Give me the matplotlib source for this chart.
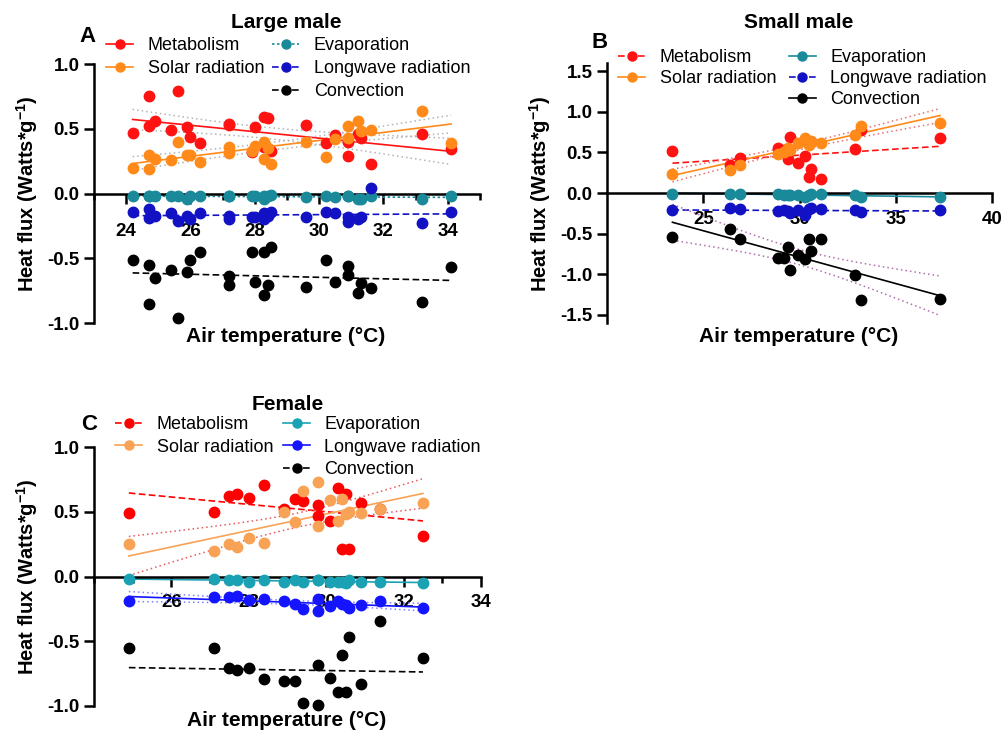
import numpy as np
import matplotlib.pyplot as plt
from matplotlib.lines import Line2D
from matplotlib.ticker import MultipleLocator

plt.rcParams['font.family'] = ['Liberation Sans', 'DejaVu Sans']
plt.rcParams['axes.unicode_minus'] = False
plt.rcParams['mathtext.fontset'] = 'custom'
plt.rcParams['mathtext.rm'] = 'Liberation Sans'
plt.rcParams['mathtext.bf'] = 'Liberation Sans:bold'

# ---- Data (Heat flux, Watts*g-1, vs air temperature) ----
# Large male
temp_large = [24.2, 24.7, 24.7, 24.9, 25.4, 25.6, 25.9, 26.0, 26.3, 27.2, 27.2, 27.9, 28.0, 28.3,
              28.3, 28.4, 28.5, 29.6, 30.2, 30.5, 30.9, 30.9, 31.2, 31.3, 31.6, 33.2, 34.1]
met_large = [0.47, 0.75, 0.52, 0.56, 0.49, 0.79, 0.51, 0.44, 0.39, 0.54, 0.53, 0.32, 0.51, 0.59,
             0.36, 0.58, 0.33, 0.53, 0.39, 0.45, 0.40, 0.29, 0.46, 0.43, 0.23, 0.46, 0.34]
solar_large = [0.20, 0.30, 0.19, 0.27, 0.26, 0.40, 0.30, 0.30, 0.24, 0.36, 0.31, 0.33, 0.37, 0.40,
               0.27, 0.35, 0.23, 0.40, 0.28, 0.42, 0.52, 0.43, 0.56, 0.48, 0.49, 0.64, 0.39]
evap_large = [-0.02, -0.02, -0.02, -0.02, -0.02, -0.02, -0.04, -0.02, -0.02, -0.02, -0.02, -0.02, -0.02, -0.04,
              -0.02, -0.02, -0.01, -0.03, -0.02, -0.03, -0.02, -0.02, -0.04, -0.04, -0.02, -0.04, -0.02]
long_large = [-0.14, -0.12, -0.19, -0.17, -0.15, -0.21, -0.17, -0.20, -0.15, -0.17, -0.20, -0.18, -0.18, -0.15,
              -0.20, -0.17, -0.14, -0.18, -0.14, -0.15, -0.18, -0.22, -0.20, -0.18, 0.04, -0.23, -0.14]
conv_large = [-0.51, -0.55, -0.85, -0.65, -0.59, -0.96, -0.61, -0.51, -0.45, -0.64, -0.71, -0.45, -0.68, -0.45,
              -0.78, -0.71, -0.41, -0.72, -0.51, -0.68, -0.56, -0.63, -0.77, -0.69, -0.73, -0.84, -0.57]

# Small male
temp_small = [23.4, 26.4, 26.9, 28.9, 29.2, 29.4, 29.5, 29.9, 30.3, 30.5, 30.6, 31.1, 32.9, 33.2, 37.3]
met_small = [0.52, 0.35, 0.43, 0.56, 0.53, 0.42, 0.69, 0.37, 0.45, 0.20, 0.30, 0.17, 0.54, 0.77, 0.68]
solar_small = [0.24, 0.28, 0.35, 0.48, 0.50, 0.55, 0.53, 0.61, 0.68, 0.59, 0.64, 0.61, 0.71, 0.83, 0.86]
evap_small = [-0.01, -0.01, -0.01, -0.01, -0.02, -0.02, -0.02, -0.02, -0.05, -0.02, -0.01, -0.01, -0.03, -0.05, -0.05]
long_small = [-0.21, -0.19, -0.20, -0.22, -0.21, -0.22, -0.25, -0.21, -0.27, -0.20, -0.19, -0.20, -0.21, -0.23, -0.21]
conv_small = [-0.54, -0.44, -0.56, -0.80, -0.80, -0.67, -0.95, -0.76, -0.81, -0.57, -0.71, -0.57, -1.01, -1.32, -1.30]

# Female
temp_female = [24.9, 27.1, 27.5, 27.7, 28.0, 28.4, 28.9, 29.2, 29.4, 29.8, 29.8, 30.1, 30.3, 30.4,
               30.5, 30.6, 30.9, 31.4, 32.5]
met_female = [0.49, 0.50, 0.62, 0.64, 0.61, 0.71, 0.52, 0.60, 0.58, 0.55, 0.47, 0.43, 0.68, 0.21,
              0.64, 0.21, 0.57, 0.52, 0.31]
solar_female = [0.25, 0.20, 0.25, 0.23, 0.30, 0.26, 0.50, 0.42, 0.66, 0.73, 0.39, 0.59, 0.43, 0.60,
                0.48, 0.50, 0.49, 0.52, 0.57]
evap_female = [-0.02, -0.02, -0.03, -0.03, -0.04, -0.03, -0.04, -0.03, -0.04, -0.03, -0.03, -0.04, -0.04, -0.04,
               -0.05, -0.03, -0.04, -0.04, -0.05]
long_female = [-0.19, -0.16, -0.16, -0.15, -0.18, -0.17, -0.19, -0.21, -0.25, -0.17, -0.27, -0.23, -0.19, -0.21,
               -0.22, -0.24, -0.22, -0.19, -0.24]
conv_female = [-0.55, -0.55, -0.71, -0.72, -0.71, -0.79, -0.81, -0.81, -0.98, -0.68, -0.99, -0.78, -0.89, -0.61,
               -0.89, -0.47, -0.83, -0.34, -0.63]

labels = ['Metabolism', 'Solar radiation', 'Evaporation', 'Longwave radiation', 'Convection']

# x tick positions per panel
xticks_large = [24, 26, 28, 30, 32, 34]
xticks_small = [25, 30, 35, 40]
xticks_female = [26, 28, 30, 32, 34]

SOLID = '-'
DASH = (0, (4, 2))
DOT = (0, (1.5, 1.5))
BAND = (0, (1, 2))

# t values (95%, df = n - 2)
T95 = {25: 2.060, 13: 2.160, 17: 2.110}


def fit_line(ax, x, y, color, ls, band_color=None):
    x = np.asarray(x)
    y = np.asarray(y)
    slope, icpt = np.polyfit(x, y, 1)
    xs = np.linspace(x.min(), x.max(), 100)
    ys = slope * xs + icpt
    ax.plot(xs, ys, color=color, ls=ls, lw=1.2, zorder=2)
    if band_color is not None:
        n = len(x)
        resid = y - (slope * x + icpt)
        s = np.sqrt(np.sum(resid ** 2) / (n - 2))
        se = s * np.sqrt(1 / n + (xs - x.mean()) ** 2 / np.sum((x - x.mean()) ** 2))
        t = T95[n - 2]
        ax.plot(xs, ys + t * se, color=band_color, ls=BAND, lw=1.1, zorder=2)
        ax.plot(xs, ys - t * se, color=band_color, ls=BAND, lw=1.1, zorder=2)


def draw_panel(ax, temp, series, colors, styles, bands, xlim, ylim, xticks, xminor, xoff):
    for y, c, ls, b in zip(series, colors, styles, bands):
        fit_line(ax, temp, y, c, ls, b)
        ax.plot(temp, y, ls='none', marker='o', ms=7.5, color=c, mec=c, zorder=3, clip_on=False)
    ax.set_xlim(*xlim)
    ax.set_ylim(*ylim)
    ax.spines['top'].set_visible(False)
    ax.spines['right'].set_visible(False)
    ax.spines['bottom'].set_position(('data', 0))
    for sp in ['left', 'bottom']:
        ax.spines[sp].set_linewidth(1.8)
    ax.set_xticks(xticks)
    if xminor:
        ax.xaxis.set_minor_locator(MultipleLocator(xminor))
    ax.yaxis.set_major_locator(MultipleLocator(0.5))
    ax.yaxis.set_major_formatter(lambda v, p: f'{v:.1f}')
    ax.tick_params(axis='x', which='major', direction='out', length=7.5, width=1.8,
                   labelbottom=False)
    ax.tick_params(axis='y', which='major', direction='out', length=7.5, width=1.8,
                   labelsize=13.5, pad=3)
    ax.tick_params(axis='x', which='minor', direction='out', length=4.5, width=1.8)
    for lab in ax.get_yticklabels():
        lab.set_fontweight('bold')
    # x tick labels sit below the zero line, under the data points
    for t in xticks:
        ax.annotate(f'{t}', xy=(t, 0), xycoords='data', xytext=(0, -xoff),
                    textcoords='offset pixels', ha='center', va='center',
                    fontsize=13.5, fontweight='bold', zorder=1.5)
    ax.set_facecolor('none')

    handles = []
    for c, ls in zip(colors, styles):
        handles.append(Line2D([], [], color=c, ls=ls, lw=1.2, marker='o', ms=6.5))
    blank = Line2D([], [], ls='none')
    return [handles[0], handles[1], blank, handles[2], handles[3], handles[4]], \
        [labels[0], labels[1], '', labels[2], labels[3], labels[4]]


fig = plt.figure(figsize=(10.04, 7.33), dpi=100)
W, H = 1004, 733


def fx(px):
    return px / W


def fy(py):
    return 1 - py / H


leg_kw = dict(ncol=2, loc='upper left', frameon=False, fontsize=13, borderpad=0,
              borderaxespad=0, handlelength=1.5, handletextpad=0.8)

# Panel A
axA = fig.add_axes([fx(94), fy(323), fx(480 - 94), (323 - 64) / H])
hA, lA = draw_panel(axA, temp_large,
                    [met_large, solar_large, evap_large, long_large, conv_large],
                    ['#FF1212', '#FF8A1A', '#1A8A9A', '#1212C4', '#000000'],
                    [SOLID, SOLID, DOT, DASH, DASH],
                    ['#B4B4B4', '#B4B4B4', None, None, None],
                    (23, 35), (-1.0, 1.0), xticks_large, 1, 38)
axA.legend(hA, lA, bbox_to_anchor=(fx(106), fy(37)), bbox_transform=fig.transFigure,
           columnspacing=0.45, labelspacing=0.34, **leg_kw)

# Panel B
axB = fig.add_axes([fx(607), fy(323), fx(992 - 607), (323 - 63) / H])
hB, lB = draw_panel(axB, temp_small,
                    [met_small, solar_small, evap_small, long_small, conv_small],
                    ['#FF1212', '#FF8A1A', '#1A8A9A', '#1212C4', '#000000'],
                    [DASH, SOLID, SOLID, DASH, SOLID],
                    [None, '#E87070', None, None, '#B070B0'],
                    (20, 40), (-1.6, 1.6), xticks_small, None, 26)
axB.legend(hB, lB, bbox_to_anchor=(fx(618), fy(49)), bbox_transform=fig.transFigure,
           columnspacing=0.7, labelspacing=0.23, **leg_kw)

# Panel C
axC = fig.add_axes([fx(94), fy(706), fx(481 - 94), (706 - 447) / H])
hC, lC = draw_panel(axC, temp_female,
                    [met_female, solar_female, evap_female, long_female, conv_female],
                    ['#FF0000', '#F8A256', '#1AA2B4', '#1414FF', '#000000'],
                    [DASH, SOLID, SOLID, SOLID, DASH],
                    [None, '#E85A5A', None, '#8080FF', None],
                    (24, 34), (-1.0, 1.0), xticks_female, 1, 26)
axC.legend(hC, lC, bbox_to_anchor=(fx(115), fy(416)), bbox_transform=fig.transFigure,
           columnspacing=0.55, labelspacing=0.31, **leg_kw)

# Titles, panel letters and axis labels
ylab = 'Heat flux (Watts*g$^{\\mathbf{-1}}$)'
for tx, ty, title, lx, ly, letter, yx, yy, xx, xy in [
        (286, 23, 'Large male', 87, 37, 'A', 27, 194, 286, 337),
        (799, 23, 'Small male', 600, 43, 'B', 540, 194, 799, 337),
        (288, 404, 'Female', 89, 424, 'C', 27, 577, 287, 720)]:
    fig.text(fx(tx), fy(ty), title, ha='center', va='center', fontsize=15, fontweight='bold')
    fig.text(fx(lx), fy(ly), letter, ha='center', va='center', fontsize=16, fontweight='bold')
    fig.text(fx(yx), fy(yy), ylab, ha='center', va='center', rotation=90,
             fontsize=14.5, fontweight='bold')
    fig.text(fx(xx), fy(xy), 'Air temperature (°C)', ha='center', va='center',
             fontsize=15, fontweight='bold')

fig.savefig('out.png', dpi=100)
